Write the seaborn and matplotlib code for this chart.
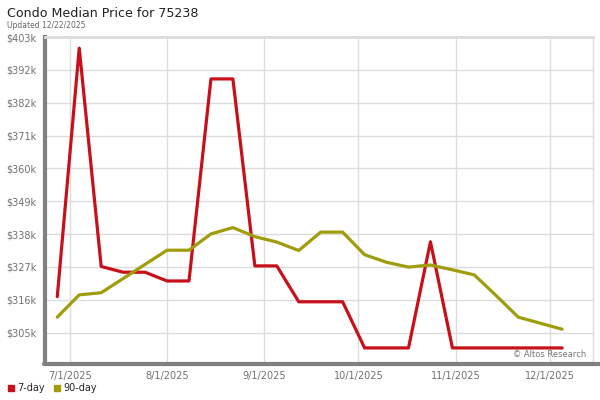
import matplotlib
matplotlib.use("Agg")
import matplotlib.pyplot as plt
import matplotlib.lines as mlines
import seaborn as sns
import pandas as pd
import numpy as np

# weekly data points (Fridays)
dates = pd.date_range("2025-06-27", periods=24, freq="7D")
day7 = [316.9, 399.3, 326.9, 325.0, 325.0, 322.1, 322.1, 389.1, 389.1, 327.1, 327.1, 315.2,
        315.2, 315.2, 299.9, 299.9, 299.9, 335.1, 299.9, 299.9, 299.9, 299.9, 299.9, 299.9]
day90 = [310.1, 317.5, 318.2, 322.9, 327.6, 332.3, 332.3, 337.7, 339.8, 336.8, 335.0, 332.2,
         338.3, 338.3, 330.8, 328.3, 326.7, 327.4, 325.8, 324.1, 317.2, 310.1, 308.1, 306.1]

ytick_labels = ["$305k", "$316k", "$327k", "$338k", "$349k", "$360k", "$371k", "$382k", "$392k", "$403k"]
xtick_dates = ["2025-07-01", "2025-08-01", "2025-09-01", "2025-10-01", "2025-11-01", "2025-12-01"]
xtick_labels = ["7/1/2025", "8/1/2025", "9/1/2025", "10/1/2025", "11/1/2025", "12/1/2025"]

RED = "#c8101a"
OLIVE = "#a09d0c"

df = pd.DataFrame({
    "date": list(dates) * 2,
    "price": day7 + day90,
    "series": ["7-day"] * len(dates) + ["90-day"] * len(dates),
})

sns.set_style("white")
plt.rcParams["font.family"] = ["DejaVu Sans"]

fig = plt.figure(figsize=(6, 4), dpi=100)
ax = fig.add_axes([45 / 600, 1 - 363 / 400, (593 - 45) / 600, (363 - 37) / 400])

sns.lineplot(data=df, x="date", y="price", hue="series", palette=[RED, OLIVE],
             linewidth=2.3, ax=ax, legend=False)

ax.set_ylim(294.9, 403.0)
ax.set_xlim(pd.Timestamp("2025-06-23 02:00"), pd.Timestamp("2025-12-14 20:00"))

ax.set_yticks(np.linspace(305, 403, len(ytick_labels)))
ax.set_yticklabels(ytick_labels)
ax.set_xticks(pd.to_datetime(xtick_dates))
ax.set_xticklabels(xtick_labels)
ax.tick_params(axis="both", length=0, labelsize=7, labelcolor="#707070")
ax.tick_params(axis="y", pad=6)
ax.tick_params(axis="x", pad=6)
ax.grid(True, color="#dcdcdc", linewidth=1)
ax.set_axisbelow(True)
ax.set_xlabel("")
ax.set_ylabel("")

for s in ["top", "right"]:
    ax.spines[s].set_color("#dcdcdc")
ax.spines["top"].set_linewidth(2)
ax.spines["right"].set_linewidth(1)
ax.spines["left"].set_color("#808080")
ax.spines["left"].set_linewidth(3)
ax.spines["bottom"].set_visible(False)

# bottom axis bar running out to the figure edge
fig.add_artist(mlines.Line2D([43.5 / 600, 1.0], [1 - 364 / 400, 1 - 364 / 400],
                             color="#808080", linewidth=3, transform=fig.transFigure))

fig.text(7 / 600, 1 - 17 / 400, "Condo Median Price for 75238", fontsize=9.1, color="#222222")
fig.text(7 / 600, 1 - 28 / 400, "Updated 12/22/2025", fontsize=5.5, color="#666666")
ax.text(0.988, 0.012, "\u00a9 Altos Research", transform=ax.transAxes, ha="right", va="bottom",
        fontsize=6, color="#777777")

handles = [mlines.Line2D([], [], color=RED, marker="s", linestyle="none", markersize=4),
           mlines.Line2D([], [], color=OLIVE, marker="s", linestyle="none", markersize=4)]
fig.legend(handles, ["7-day", "90-day"], loc="lower left", bbox_to_anchor=(0, 0.0),
           ncol=2, frameon=False, fontsize=7, handletextpad=0.3, columnspacing=0.8,
           handlelength=0.8, borderaxespad=0.3)

fig.savefig("out.png", dpi=100)
